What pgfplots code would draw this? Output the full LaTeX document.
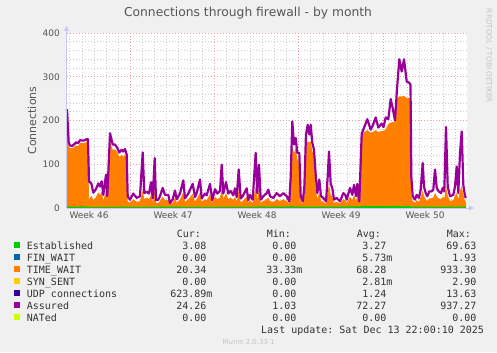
\documentclass[border=0pt]{standalone}
\usepackage{fontspec}
\setmainfont{DejaVu Sans}
\setmonofont{DejaVu Sans Mono}
\usepackage{pgfplots}
\usepackage{pgfplotstable}
\pgfplotsset{compat=1.18}
\usetikzlibrary{arrows.meta}
\definecolor{bg}{HTML}{F0F0F0}
\definecolor{gridgray}{HTML}{CCCCCC}
\definecolor{gridred}{HTML}{F0A0A0}
\definecolor{axcol}{HTML}{C8C8F0}
\definecolor{credit}{HTML}{C4C4C4}
\definecolor{labgray}{HTML}{555555}
\definecolor{lgtext}{HTML}{333333}
\definecolor{est}{HTML}{00CC00}
\definecolor{finw}{HTML}{0066B3}
\definecolor{timew}{HTML}{FF8000}
\definecolor{syns}{HTML}{FFCC00}
\definecolor{udp}{HTML}{330099}
\definecolor{assured}{HTML}{990099}
\definecolor{nated}{HTML}{CCFF00}

% x in pixel offsets from the left edge of the plot (one day = 12.05)
\pgfplotstableread{
x y
0 226
1.7 150
3 143
5 142
7 145
9 150
11 148
13 155
16 154
18 155
20 158
21 157
22 60
23 59
24.5 55
26.3 35
28.7 42
31.3 56
33 49
34.7 61
36.3 30
39 76
40.3 27
43 171
45.7 145
48 145
50.3 137
52.3 127
54.7 133
56.3 129
58 135
59.7 122
60.7 27
63 19
66.3 33
69.7 23
73 27
75.7 127
77.3 34
79.7 37
82 33
84 59
85.7 22
87.7 114
89 18
91.3 19
93 27
95.7 46
98 30
101.3 30
103 11
105.7 20
108 40
109.7 20
113 33
116.3 63
118 22
121.3 33
125.7 55
128 25
129.7 34
133 65
134.7 22
138 33
139.7 29
143 55
145.3 18
148 43
150.3 33
153 39
154.7 99
156.3 33
159 59
161.3 33
163.7 39
166.3 29
168 45
169.7 25
171.7 88
173.7 22
175.7 27
179.7 45
181.3 18
183 30
185.7 19
188.7 126
190.3 34
192 99
193.7 19
196.3 27
199.7 34
201.3 42
203 27
206.3 23
209.7 34
213 27
216.3 34
219.7 27
222.3 15
223.7 72
225.3 198
227 145
228.7 160
230.3 126
232.3 126
233.7 27
235.7 15
237.3 46
239 168
240.7 190
242.3 168
243.7 190
245.3 149
247 133
248.7 76
250.3 34
252.3 65
254 27
256.3 23
259 15
260.7 72
262 129
263.7 55
265.3 46
267 19
269.7 23
273 15
276.3 34
278.3 30
279.7 19
283 46
285.3 30
287 53
289 27
290.3 55
292.3 15
294.7 170
296.3 179
300.3 203
303.7 179
306 190
308.7 207
311.3 184
314.7 193
316.5 185
318.7 207
321.3 203
323.7 249
325.7 228
328 200
330 272
332.3 340
334.7 312
337 340
339.7 289
342.3 286
343.5 282
344.3 72
345.7 27
348 19
349.7 30
352 23
353.7 42
355.7 103
357 49
358.7 34
360.3 27
362.3 38
364.7 38
366.3 42
368 88
369.7 46
371.7 38
374 34
375.7 46
377.3 38
379 185
380.7 49
383 27
386.3 30
388 49
389.7 95
391.3 34
393 126
394.7 175
396.3 53
398 27
399 23
}\assuredtbl

\pgfplotstableread{
x y
0 205
1.7 141
3 137
5 137
7 139
9 143
11 141
13 149
16 148
18 149
20 151
21 150
22 20
23 24
24.5 28
26.3 18
28.7 24
31.3 36
33 30
34.7 38
36.3 16
39 42
40.3 15
43 152
45.7 133
48 134
50.3 128
52.3 117
54.7 121
56.3 117
58 123
59.7 110
60.7 15
63 12
66.3 20
69.7 14
73 16
75.7 40
77.3 20
79.7 24
82 20
84 30
85.7 14
87.7 42
89 12
91.3 12
93 16
95.7 26
98 18
101.3 18
103 8
105.7 12
108 24
109.7 12
113 20
116.3 36
118 14
121.3 20
125.7 32
128 15
129.7 20
133 36
134.7 14
138 20
139.7 18
143 32
145.3 12
148 26
150.3 20
153 24
154.7 45
156.3 20
159 34
161.3 20
163.7 24
166.3 18
168 26
169.7 15
171.7 40
173.7 13
175.7 16
179.7 26
181.3 12
183 18
185.7 12
188.7 50
190.3 20
192 45
193.7 12
196.3 16
199.7 20
201.3 24
203 16
206.3 14
209.7 20
213 16
216.3 20
219.7 16
222.3 10
223.7 40
225.3 142
227 125
228.7 138
230.3 112
232.3 100
233.7 16
235.7 10
237.3 28
239 145
240.7 152
242.3 150
243.7 152
245.3 130
247 118
248.7 45
250.3 20
252.3 36
254 16
256.3 14
259 10
260.7 35
262 55
263.7 30
265.3 26
267 12
269.7 14
273 10
276.3 20
278.3 18
279.7 12
283 26
285.3 18
287 30
289 16
290.3 30
292.3 10
294.7 165
296.3 172
300.3 178
303.7 172
306 174
308.7 178
311.3 174
314.7 176
316.5 176
318.7 180
321.3 192
323.7 195
325.7 196
328 198
330 250
332.3 255
334.7 255
337 256
339.7 252
342.3 252
343.5 250
344.3 30
345.7 16
348 12
349.7 18
352 14
353.7 24
355.7 40
357 28
358.7 20
360.3 16
362.3 22
364.7 22
366.3 24
368 35
369.7 26
371.7 22
374 20
375.7 26
377.3 22
379 50
380.7 28
383 16
386.3 18
388 28
389.7 35
391.3 20
393 40
394.7 50
396.3 30
398 16
399 14
}\timewaittbl

\pgfplotstableread{
x y
0 3
20 3.5
22 2
60 3
61 2.5
100 3
150 2.5
200 3
223 3
224 6
226 3
260 3
294 4
320 4.5
330 5
343 4
345 3
380 3
399 3
}\esttbl

\newcommand{\lgfont}{\ttfamily\fontsize{10bp}{12bp}\selectfont}

\begin{document}
\begin{tikzpicture}[x=1bp,y=1bp]
\path[use as bounding box, fill=bg] (0,0) rectangle (497,352);

\begin{axis}[
  at={(67bp,144bp)}, anchor=south west,
  scale only axis, width=400bp, height=175bp,
  xmin=0, xmax=400, ymin=0, ymax=400,
  clip=false,
  axis background/.style={fill=white},
  axis line style={draw=none},
  tick style={draw=none},
  /pgf/number format/assume math mode=true,
  xtick={22,106,190,274,358},
  xticklabels={Week 46,Week 47,Week 48,Week 49,Week 50},
  minor xtick={2.75,14.8,26.85,38.9,50.95,75.05,87.1,99.15,111.2,123.25,135.3,159.4,171.45,183.5,195.55,207.6,219.65,243.75,255.8,267.85,279.9,291.95,304,328.1,340.15,352.2,364.25,376.3,388.35},
  ytick={0,100,200,300,400},
  minor ytick={20,40,60,80,120,140,160,180,220,240,260,280,320,340,360,380},
  xmajorgrids=false, xminorgrids=true, ymajorgrids=true, yminorgrids=true,
  minor grid style={gridgray, line width=0.6bp, dash pattern=on 1bp off 2bp},
  major grid style={gridred, line width=0.6bp, dash pattern=on 1bp off 2bp},
  extra x ticks={63,147.35,231.7,316.05},
  extra x tick labels={,,,},
  extra x tick style={xmajorgrids=true},
  tick label style={font=\fontsize{9bp}{10bp}\selectfont, text=labgray},
  yticklabel style={anchor=east, inner sep=0pt, xshift=-7bp},
  xticklabel style={anchor=north, inner sep=0pt, yshift=-3.5bp},
  ylabel={Connections},
  every axis y label/.style={at={(axis description cs:-0.0875,0.5)}, rotate=90, anchor=center,
     font=\fontsize{11bp}{12bp}\selectfont, text=labgray},
]
\addplot[draw=none, fill=timew] table[x=x, y=y] {\timewaittbl} \closedcycle;
\addplot[draw=none, fill=est] table[x=x, y=y] {\esttbl} \closedcycle;
\addplot[assured, line width=2.2bp, line join=round] table[x=x, y=y] {\assuredtbl};
\draw[axcol, line width=0.9bp, -{Triangle[width=5bp,length=5bp]}] (axis cs:-0.5,0) -- (axis cs:-0.5,416);
\draw[axcol, line width=0.9bp, -{Triangle[width=5bp,length=5bp]}] (axis cs:-0.5,0) -- (axis cs:407,0);
\end{axis}

% title
\node[anchor=base, inner sep=0pt, text=labgray, font=\fontsize{12.3bp}{14bp}\selectfont] at (248,352-16.5) {Connections through firewall - by month};
% rrdtool credit
\node[rotate=-90, inner sep=0pt, text=credit, font=\fontsize{7.3bp}{8bp}\selectfont] at (489,352-56) {RRDTOOL / TOBI OETIKER};

% legend table
\newcommand{\lrow}[7]{%
  \node[anchor=base west, inner sep=0pt] at (14,352-#1+0.7) {\textcolor{#2}{\rule{6bp}{6bp}}};
  \node[anchor=base west, inner sep=0pt, text=lgtext, font=\lgfont] at (26.7,352-#1) {#3};
  \node[anchor=base east, inner sep=0pt, text=lgtext, font=\lgfont] at (212.7,352-#1) {#4};
  \node[anchor=base east, inner sep=0pt, text=lgtext, font=\lgfont] at (302.7,352-#1) {#5};
  \node[anchor=base east, inner sep=0pt, text=lgtext, font=\lgfont] at (392.7,352-#1) {#6};
  \node[anchor=base east, inner sep=0pt, text=lgtext, font=\lgfont] at (482.7,352-#1) {#7};
}
\node[anchor=base west, inner sep=0pt, text=lgtext, font=\lgfont] at (176.7,352-237.3) {Cur:};
\node[anchor=base west, inner sep=0pt, text=lgtext, font=\lgfont] at (266.7,352-237.3) {Min:};
\node[anchor=base west, inner sep=0pt, text=lgtext, font=\lgfont] at (356.7,352-237.3) {Avg:};
\node[anchor=base west, inner sep=0pt, text=lgtext, font=\lgfont] at (446.7,352-237.3) {Max:};
\lrow{249}{est}{Established}{3.08\phantom{m}}{0.00\phantom{m}}{3.27\phantom{m}}{69.63\phantom{m}}
\lrow{261}{finw}{FIN\_WAIT}{0.00\phantom{m}}{0.00\phantom{m}}{5.73m}{1.93\phantom{m}}
\lrow{273}{timew}{TIME\_WAIT}{20.34\phantom{m}}{33.33m}{68.28\phantom{m}}{933.30\phantom{m}}
\lrow{285}{syns}{SYN\_SENT}{0.00\phantom{m}}{0.00\phantom{m}}{2.81m}{2.90\phantom{m}}
\lrow{297}{udp}{UDP connections}{623.89m}{0.00\phantom{m}}{1.24\phantom{m}}{13.63\phantom{m}}
\lrow{309}{assured}{Assured}{24.26\phantom{m}}{1.03\phantom{m}}{72.27\phantom{m}}{937.27\phantom{m}}
\lrow{321}{nated}{NATed}{0.00\phantom{m}}{0.00\phantom{m}}{0.00\phantom{m}}{0.00\phantom{m}}
\node[anchor=base west, inner sep=0pt, text=lgtext, font=\lgfont] at (261,352-333.7) {Last update: Sat Dec 13 22:00:10 2025};
\node[anchor=base, inner sep=0pt, text=credit, font=\fontsize{6.9bp}{8bp}\selectfont] at (248.7,352-344.3) {Munin 2.0.33-1};
\end{tikzpicture}
\end{document}
